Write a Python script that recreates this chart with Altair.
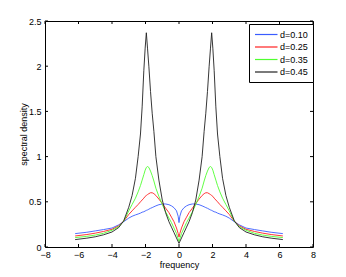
import altair as alt
import pandas as pd

# ---- data ----
freq = [-6.2, -5.5, -5.0, -4.5, -4.0, -3.6, -3.3, -3.0, -2.8, -2.6, -2.44, -2.3, -2.2, -2.1, -2.02,
        -1.95, -1.88, -1.8, -1.7, -1.6, -1.5, -1.38, -1.2, -1.0, -0.8, -0.6, -0.45, -0.3, -0.15, -0.05,
        0.0,
        0.05, 0.15, 0.3, 0.45, 0.6, 0.8, 1.0, 1.2, 1.38, 1.5, 1.6, 1.7, 1.8, 1.88, 1.95,
        2.02, 2.1, 2.2, 2.3, 2.44, 2.6, 2.8, 3.0, 3.3, 3.6, 4.0, 4.5, 5.0, 5.5, 6.2]

d010 = [0.148, 0.163, 0.178, 0.193, 0.21, 0.245, 0.28, 0.32, 0.34, 0.355, 0.365, 0.375, 0.385, 0.39, 0.398,
        0.405, 0.41, 0.418, 0.428, 0.436, 0.445, 0.455, 0.468, 0.475, 0.476, 0.468, 0.455, 0.435, 0.40, 0.34,
        0.27,
        0.34, 0.40, 0.435, 0.455, 0.468, 0.476, 0.475, 0.468, 0.455, 0.445, 0.436, 0.428, 0.418, 0.41, 0.405,
        0.398, 0.39, 0.385, 0.375, 0.365, 0.355, 0.34, 0.32, 0.28, 0.245, 0.21, 0.193, 0.178, 0.163, 0.148]

d025 = [0.122, 0.138, 0.153, 0.172, 0.196, 0.235, 0.285, 0.36, 0.40, 0.44, 0.47, 0.50, 0.52, 0.54, 0.56,
        0.57, 0.58, 0.59, 0.60, 0.60, 0.59, 0.57, 0.53, 0.48, 0.43, 0.38, 0.33, 0.28, 0.21, 0.15,
        0.11,
        0.15, 0.21, 0.28, 0.33, 0.38, 0.43, 0.48, 0.53, 0.57, 0.59, 0.60, 0.60, 0.59, 0.58, 0.57,
        0.56, 0.54, 0.52, 0.50, 0.47, 0.44, 0.40, 0.36, 0.285, 0.235, 0.196, 0.172, 0.153, 0.138, 0.122]

d035 = [0.104, 0.118, 0.132, 0.152, 0.185, 0.225, 0.285, 0.40, 0.47, 0.54, 0.61, 0.68, 0.74, 0.80, 0.85,
        0.88, 0.89, 0.88, 0.84, 0.79, 0.73, 0.65, 0.56, 0.47, 0.39, 0.32, 0.27, 0.21, 0.15, 0.09,
        0.06,
        0.09, 0.15, 0.21, 0.27, 0.32, 0.39, 0.47, 0.56, 0.65, 0.73, 0.79, 0.84, 0.88, 0.89, 0.88,
        0.85, 0.80, 0.74, 0.68, 0.61, 0.54, 0.47, 0.40, 0.285, 0.225, 0.185, 0.152, 0.132, 0.118, 0.104]

d045 = [0.082, 0.098, 0.113, 0.135, 0.166, 0.215, 0.29, 0.44, 0.57, 0.76, 1.0, 1.25, 1.55, 1.95, 2.2,
        2.37, 2.2, 2.0, 1.72, 1.48, 1.28, 1.0, 0.74, 0.52, 0.38, 0.28, 0.22, 0.16, 0.10, 0.06,
        0.04,
        0.06, 0.10, 0.16, 0.22, 0.28, 0.38, 0.52, 0.74, 1.0, 1.28, 1.48, 1.72, 2.0, 2.2, 2.37,
        2.2, 1.95, 1.55, 1.25, 1.0, 0.76, 0.57, 0.44, 0.29, 0.215, 0.166, 0.135, 0.113, 0.098, 0.082]

series_names = ["d=0.10", "d=0.25", "d=0.35", "d=0.45"]
series_colors = ["#3a5cff", "#ff2020", "#50ff30", "#202020"]
x_ticks = [-8, -6, -4, -2, 0, 2, 4, 6, 8]
y_ticks = [0, 0.5, 1, 1.5, 2, 2.5]

W, H = 268, 226
FONT = "Liberation Sans"
FS = 9

rows = []
for name, vals in zip(series_names, [d010, d025, d035, d045]):
    for i, (fx, fy) in enumerate(zip(freq, vals)):
        rows.append({"frequency": fx, "density": fy, "series": name, "order": i})
df = pd.DataFrame(rows)

xscale = alt.Scale(domain=[-8, 8], nice=False, zero=False)
yscale = alt.Scale(domain=[0, 2.5], nice=False)

x_axis = alt.Axis(values=x_ticks, title="frequency", ticks=False, domain=False, grid=False,
                  labelPadding=3, titlePadding=1, format="~g", labelOverlap=False, labelFlush=False)
y_axis = alt.Axis(values=y_ticks, title="spectral density", ticks=False, domain=False, grid=False,
                  labelPadding=4, titlePadding=0, format="~g", labelOverlap=False, labelFlush=False)

lines = alt.Chart(df).mark_line(strokeWidth=0.9, clip=True).encode(
    x=alt.X("frequency:Q", scale=xscale, axis=x_axis),
    y=alt.Y("density:Q", scale=yscale, axis=y_axis),
    color=alt.Color("series:N",
                    scale=alt.Scale(domain=series_names, range=series_colors),
                    legend=alt.Legend(title=None, orient="none", legendX=204, legendY=3,
                                      symbolType="M-1,0H4", symbolSize=81, symbolStrokeWidth=1.2,
                                      labelOffset=15, labelFont=FONT, labelFontSize=FS,
                                      labelColor="#000000",
                                      padding=5, rowPadding=1.5, strokeColor="#000000",
                                      fillColor="#ffffff")),
    order="order:Q",
)

xt = pd.DataFrame({"t": x_ticks})
yt = pd.DataFrame({"t": y_ticks})
tl = 3
bottom_ticks = alt.Chart(xt).mark_rule(color="black", strokeWidth=1).encode(
    x=alt.X("t:Q", scale=xscale, axis=x_axis), y=alt.value(H), y2=alt.value(H - tl))
top_ticks = alt.Chart(xt).mark_rule(color="black", strokeWidth=1).encode(
    x=alt.X("t:Q", scale=xscale, axis=x_axis), y=alt.value(0), y2=alt.value(tl))
left_ticks = alt.Chart(yt).mark_rule(color="black", strokeWidth=1).encode(
    y=alt.Y("t:Q", scale=yscale, axis=y_axis), x=alt.value(0), x2=alt.value(tl))
right_ticks = alt.Chart(yt).mark_rule(color="black", strokeWidth=1).encode(
    y=alt.Y("t:Q", scale=yscale, axis=y_axis), x=alt.value(W), x2=alt.value(W - tl))

chart = alt.layer(lines, bottom_ticks, top_ticks, left_ticks, right_ticks).properties(
    width=W, height=H,
    background="#ffffff",
    autosize=alt.AutoSizeParams(type="none"),
    padding={"left": 37, "top": 13, "right": 25, "bottom": 30},
).configure_view(
    stroke="#000000", strokeWidth=1
).configure_axis(
    labelFont=FONT, labelFontSize=FS, labelColor="#000000",
    titleFont=FONT, titleFontSize=FS, titleFontWeight="normal", titleColor="#000000",
    labelOverlap=False,
)

chart.save("out.html", embed_options={"renderer": "svg", "actions": False})
